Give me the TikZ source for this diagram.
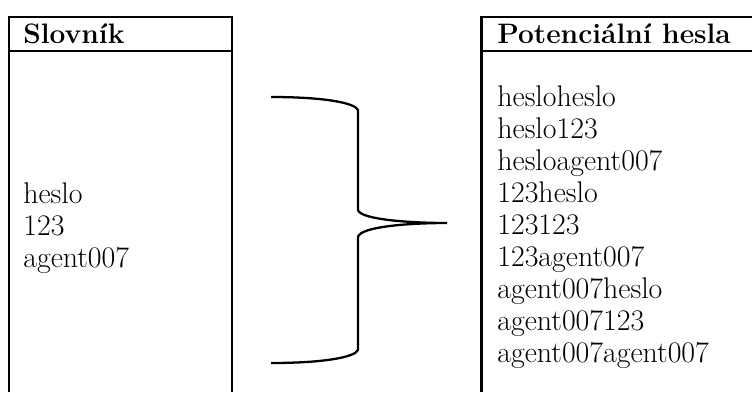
\documentclass[tikz,border=0pt]{standalone}
\tikzset{
  box/.style = {line width = 1.7pt},
  brace/.style = {line width = 1.3pt},
  word/.style = {anchor = base west, inner sep = 0pt, font = \fontsize{17}{20}\selectfont},
  head/.style = {word, font = \fontsize{16}{19}\selectfont\bfseries}
}
\begin{document}
\begin{tikzpicture}
                    \useasboundingbox (0,0) rectangle (15.04,7.84);

                    % boxes
                    \draw[box] (0.18,0) -- (0.18,7.5) -- (4.64,7.5) -- (4.64,0);
                    \draw[box] (0.18,6.82) -- (4.64,6.82);
                    \draw[box] (9.62,0) -- (9.62,7.5) -- (15.3,7.5);
                    \draw[box] (9.62,6.82) -- (15.3,6.82);

                    \node[head] (slovnik) at (0.46, 6.98) {Slovník};
                    \node[head] (hesla)   at (9.94, 6.98) {Potenciální hesla};

                    \node[word] (w1) at (0.46, 3.78) {heslo};
                    \node[word] (w2) at (0.46, 3.14) {123};
                    \node[word] (w3) at (0.46, 2.50) {agent007};

                    \node[word] (p1) at (9.94, 5.72) {hesloheslo};
                    \node[word] (p2) at (9.94, 5.08) {heslo123};
                    \node[word] (p3) at (9.94, 4.44) {hesloagent007};
                    \node[word] (p4) at (9.94, 3.80) {123heslo};
                    \node[word] (p5) at (9.94, 3.16) {123123};
                    \node[word] (p6) at (9.94, 2.52) {123agent007};
                    \node[word] (p7) at (9.94, 1.88) {agent007heslo};
                    \node[word] (p8) at (9.94, 1.24) {agent007123};
                    \node[word] (p9) at (9.94, 0.60) {agent007agent007};

                    % brace
                    \coordinate (top)  at (5.42, 5.90);
                    \coordinate (tip)  at (8.94, 3.38);
                    \coordinate (bot)  at (5.42, 0.58);

                    \draw[brace] (top) .. controls (6.5,5.9) and (7.1,5.78) .. (7.16,5.64)
                                 -- (7.16,3.64) .. controls (7.2,3.45) and (8.2,3.38) .. (tip)
                                 .. controls (8.2,3.38) and (7.2,3.31) .. (7.16,3.10)
                                 -- (7.16,0.84) .. controls (7.1,0.70) and (6.5,0.58) .. (bot);
                \end{tikzpicture}
\end{document}
